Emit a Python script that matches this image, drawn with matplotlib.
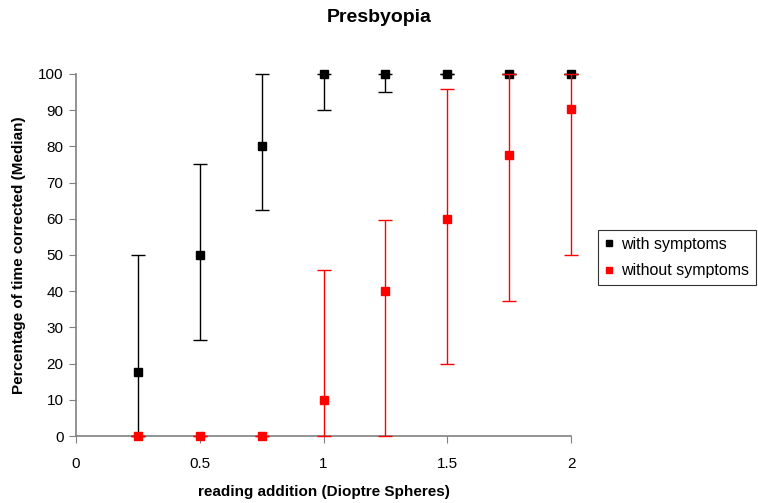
import matplotlib
matplotlib.use("Agg")
import matplotlib.pyplot as plt
from matplotlib.lines import Line2D
import numpy as np

plt.rcParams["font.family"] = ["Liberation Sans", "DejaVu Sans"]

x = [0.25, 0.5, 0.75, 1.0, 1.25, 1.5, 1.75, 2.0]

with_med = [17.7, 50, 80, 100, 100, 100, 100, 100]
with_low = [0, 26.5, 62.4, 90, 95, 100, 100, 100]
with_high = [50, 75, 100, 100, 100, 100, 100, 100]

without_med = [0, 0, 0, 10, 40, 60, 77.6, 90.3]
without_low = [0, 0, 0, 0, 0, 20, 37.3, 50]
without_high = [0, 0, 0, 45.9, 59.7, 95.9, 100, 100]


def errs(med, low, high):
    med = np.array(med)
    return [med - np.array(low), np.array(high) - med]


fig = plt.figure(figsize=(7.58, 5.03), dpi=100)
ax = fig.add_axes([0.1003, 0.1332, 0.653, 0.7198])

ax.errorbar(x, with_med, yerr=errs(with_med, with_low, with_high), fmt="s",
            color="black", ecolor="black", markersize=6, capsize=5,
            elinewidth=1, capthick=1, clip_on=False, zorder=3)
ax.errorbar(x, without_med, yerr=errs(without_med, without_low, without_high),
            fmt="s", color="#ff0000", ecolor="#ff0000", markersize=6, capsize=5,
            elinewidth=1, capthick=1, clip_on=False, zorder=4)

ax.set_xlim(0, 2)
ax.set_ylim(0, 100)
ax.set_xticks([0, 0.5, 1, 1.5, 2])
ax.set_xticklabels(["0", "0.5", "1", "1.5", "2"])
ax.set_yticks(range(0, 101, 10))

for s in ["top", "right"]:
    ax.spines[s].set_visible(False)
for s in ["left", "bottom"]:
    ax.spines[s].set_color("#808080")
    ax.spines[s].set_linewidth(1.2)
ax.tick_params(direction="out", length=5, color="#808080", labelsize=11)
ax.tick_params(axis="x", pad=10)
ax.tick_params(axis="y", pad=4)

# title is centred on the whole figure, not the plot area
fig.suptitle("Presbyopia", fontsize=14, fontweight="bold", x=0.5,
             y=1 - 17 / 503, va="center")
ax.set_xlabel("reading addition (Dioptre Spheres)", fontsize=11,
              fontweight="bold", va="center")
ax.xaxis.set_label_coords(0.5, -0.155)
ax.set_ylabel("Percentage of time corrected (Median)", fontsize=11,
              fontweight="bold", labelpad=9)

h = [Line2D([], [], marker="s", color="black", linestyle="none", markersize=4.5),
     Line2D([], [], marker="s", color="#ff0000", linestyle="none", markersize=4.5)]
leg = fig.legend(h, ["with symptoms", "without symptoms"], loc="center left",
                 bbox_to_anchor=(0.789, 0.488), frameon=True, fancybox=False,
                 edgecolor="black", fontsize=11.5, handlelength=0.5,
                 handletextpad=0.5, borderpad=0.45, labelspacing=0.7,
                 borderaxespad=0)
leg.get_frame().set_linewidth(0.8)

fig.savefig("out.png", dpi=100)
